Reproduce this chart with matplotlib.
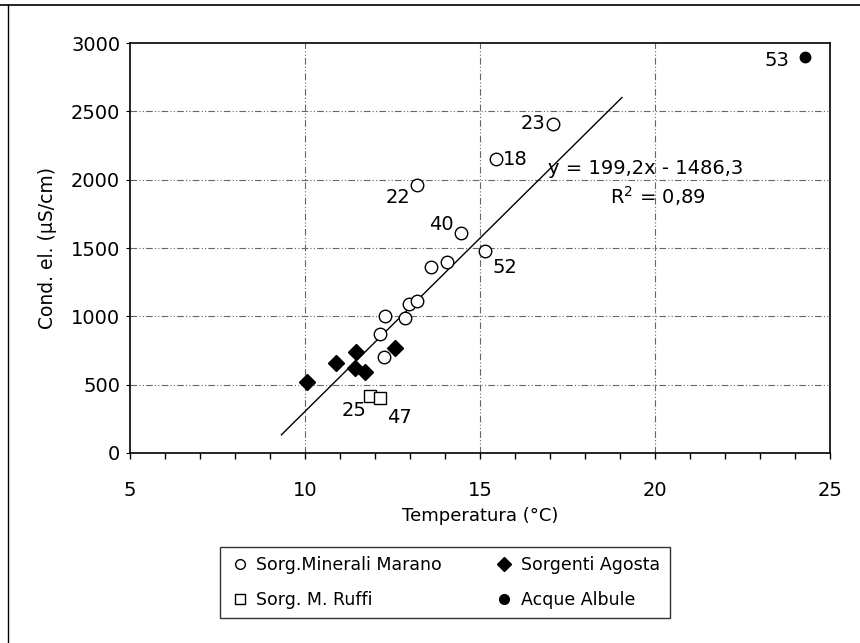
"""
Conducibilita elettrica vs temperatura delle sorgenti (scatter + retta di regressione)
"""

import matplotlib.pyplot as plt
from matplotlib.lines import Line2D
from matplotlib.ticker import MultipleLocator

plt.rcParams['font.family'] = ['DejaVu Sans']

# Sorg. Minerali Marano (cerchi vuoti)
marano_t = [17.1, 15.47, 13.2, 14.45, 15.15, 13.6, 14.05, 12.98, 13.2, 12.3, 12.85, 12.15, 12.25]
marano_c = [2410, 2150, 1960, 1610, 1475, 1360, 1395, 1090, 1110, 1005, 985, 870, 705]
marano_lab = ['23', '18', '22', '40', '52', '', '', '', '', '', '', '', '']

# Sorgenti Agosta (rombi pieni)
agosta_t = [10.05, 10.9, 11.46, 11.43, 11.73, 12.57]
agosta_c = [520, 656, 737, 619, 590, 767]

# Sorg. M. Ruffi (quadrati vuoti)
ruffi_t = [11.85, 12.15]
ruffi_c = [420, 400]
ruffi_lab = ['25', '47']

# Acque Albule (cerchio pieno)
albule_t = [24.3]
albule_c = [2900]
albule_lab = ['53']

# retta di tendenza come disegnata
trend_t = [9.33, 19.06]
trend_c = [133, 2602]

fig = plt.figure(figsize=(8.6, 6.43), dpi=100)
ax = fig.add_axes([0.151, 0.2955, 0.814, 0.6375])

# griglia tratto-punto
for v in [10, 15, 20]:
    ax.axvline(v, color='0.4', lw=0.8, dashes=(6, 2, 1, 2, 1, 2), zorder=0)
for v in [500, 1000, 1500, 2000, 2500]:
    ax.axhline(v, color='0.4', lw=0.8, dashes=(6, 2, 1, 2, 1, 2), zorder=0)

ax.plot(trend_t, trend_c, color='black', lw=1.0, zorder=1)

ax.plot(marano_t, marano_c, 'o', ms=9, mfc='white', mec='black', mew=1.0, ls='none', zorder=3)
ax.plot(agosta_t, agosta_c, 'D', ms=8.5, mfc='black', mec='black', ls='none', zorder=3)
ax.plot(ruffi_t, ruffi_c, 's', ms=9, mfc='white', mec='black', mew=1.0, ls='none', zorder=3)
ax.plot(albule_t, albule_c, 'o', ms=7.5, mfc='black', mec='black', ls='none', zorder=3)

fs = 14
# etichette dei punti
offs = {'23': (-0.22, 0, 'right', 'center'),
        '18': (0.2, 0, 'left', 'center'),
        '22': (-0.2, -90, 'right', 'center'),
        '40': (-0.2, 60, 'right', 'center'),
        '52': (0.2, -120, 'left', 'center')}
for t, c, lab in zip(marano_t, marano_c, marano_lab):
    if lab:
        dx, dy, ha, va = offs[lab]
        ax.text(t + dx, c + dy, lab, fontsize=fs, ha=ha, va=va)
ax.text(ruffi_t[0] - 0.1, ruffi_c[0] - 110, ruffi_lab[0], fontsize=fs, ha='right', va='center')
ax.text(ruffi_t[1] + 0.2, ruffi_c[1] - 140, ruffi_lab[1], fontsize=fs, ha='left', va='center')
ax.text(albule_t[0] - 0.45, albule_c[0] - 30, albule_lab[0], fontsize=fs, ha='right', va='center')

ax.text(19.74, 2085, 'y = 199,2x - 1486,3', fontsize=fs, ha='center', va='center')
ax.text(20.09, 1880, 'R$^{2}$ = 0,89', fontsize=fs, ha='center', va='center')

ax.set_xlim(5, 25)
ax.set_ylim(0, 3000)
ax.xaxis.set_major_locator(MultipleLocator(5))
ax.xaxis.set_minor_locator(MultipleLocator(1))
ax.yaxis.set_major_locator(MultipleLocator(500))
ax.tick_params(axis='x', which='both', direction='out', length=4, width=1, labelsize=fs, pad=16)
ax.tick_params(axis='y', direction='out', length=3, width=0.8, labelsize=fs, pad=4)
for s in ax.spines.values():
    s.set_linewidth(1.2)

ax.set_xlabel('Temperatura (°C)', fontsize=13, labelpad=5)
ax.set_ylabel('Cond. el. (µS/cm)', fontsize=13.5, labelpad=10)

handles = [
    Line2D([], [], marker='o', ls='none', ms=7, mfc='white', mec='black', label='Sorg.Minerali Marano'),
    Line2D([], [], marker='s', ls='none', ms=7, mfc='white', mec='black', label='Sorg. M. Ruffi'),
    Line2D([], [], marker='D', ls='none', ms=7, mfc='black', mec='black', label='Sorgenti Agosta'),
    Line2D([], [], marker='o', ls='none', ms=7, mfc='black', mec='black', label='Acque Albule'),
]
leg = fig.legend(handles=handles, ncol=2, loc='center', bbox_to_anchor=(0.517, 0.094),
                 fontsize=12.5, frameon=True, fancybox=False, edgecolor='black',
                 handletextpad=0.35, columnspacing=3.0, labelspacing=0.95,
                 handlelength=1.2, borderpad=0.55)
leg.get_frame().set_linewidth(1.0)

# cornice esterna (bordo superiore e sinistro)
fig.add_artist(Line2D([0.0, 1.0], [0.992, 0.992], color='black', lw=1.2, transform=fig.transFigure))
fig.add_artist(Line2D([0.009, 0.009], [0.0, 0.992], color='black', lw=1.0, transform=fig.transFigure))

fig.savefig('out.png', dpi=100)
